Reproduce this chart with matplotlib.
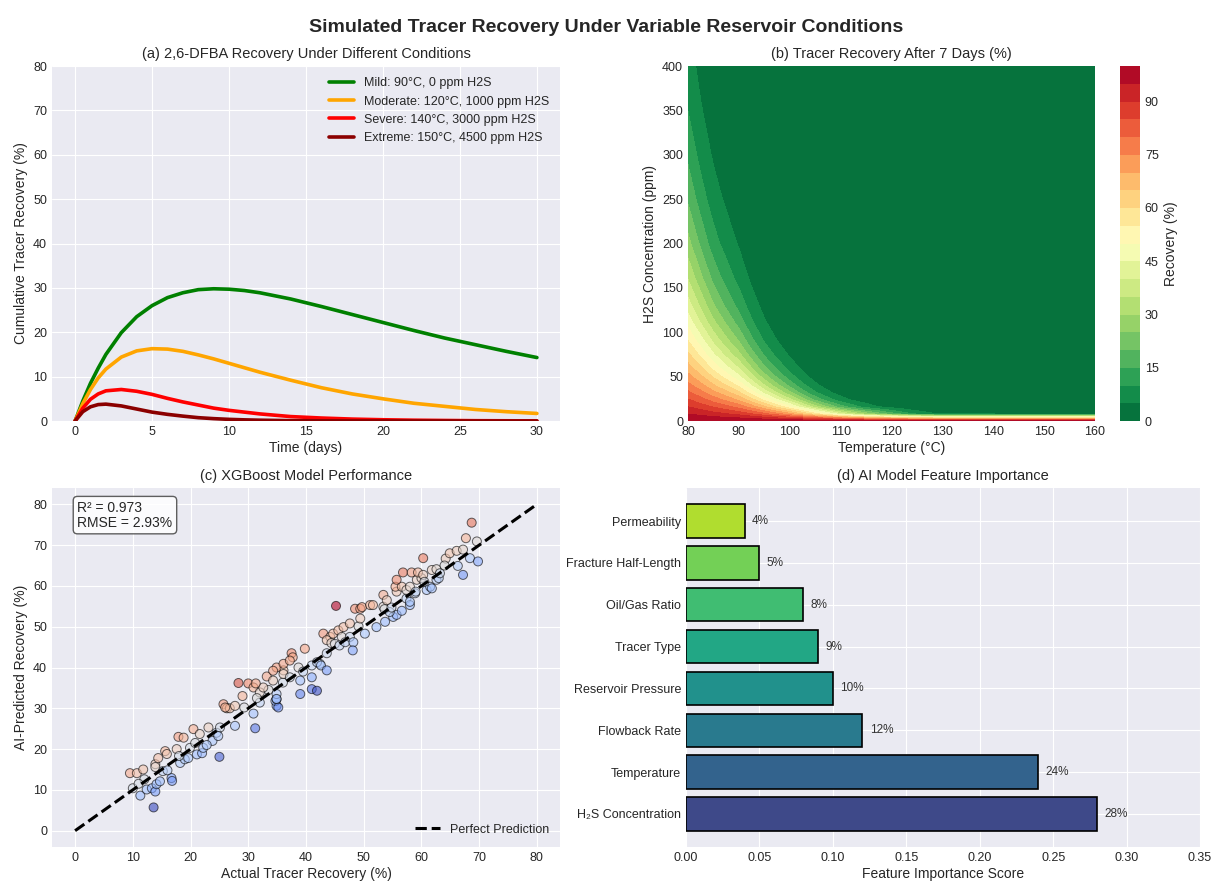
import numpy as np
import matplotlib
matplotlib.use("Agg")
import matplotlib.pyplot as plt

plt.style.use('seaborn-v0_8-darkgrid')
plt.rcParams['font.family'] = ['Liberation Sans', 'DejaVu Sans']

# (a) recovery curves
days = [0, 0.5, 1, 1.5, 2, 3, 4, 5, 6, 7, 8, 9, 10, 11, 12, 14, 16, 18, 20, 22, 24, 26, 28, 30]
mild = [0, 4.5, 8.5, 11.9, 15.0, 19.9, 23.5, 26.0, 27.8, 28.9, 29.6, 29.8, 29.7, 29.4, 28.9,
        27.5, 25.8, 24.0, 22.2, 20.4, 18.7, 17.2, 15.7, 14.3]
moderate = [0, 3.9, 7.1, 9.7, 11.7, 14.4, 15.8, 16.3, 16.2, 15.7, 14.9, 14.0, 13.0, 12.0, 11.0,
            9.2, 7.5, 6.1, 5.0, 4.0, 3.3, 2.6, 2.1, 1.7]
severe = [0, 2.9, 4.9, 6.1, 6.8, 7.1, 6.7, 6.0, 5.1, 4.3, 3.6, 2.9, 2.4, 2.0, 1.6,
          1.0, 0.67, 0.43, 0.28, 0.18, 0.12, 0.07, 0.05, 0.03]
extreme = [0, 2.1, 3.2, 3.7, 3.8, 3.4, 2.7, 2.0, 1.5, 1.1, 0.75, 0.53, 0.37, 0.26, 0.18,
           0.08, 0.04, 0.02, 0.01, 0, 0, 0, 0, 0]
scenario_labels = ['Mild: 90°C, 0 ppm H2S', 'Moderate: 120°C, 1000 ppm H2S',
                   'Severe: 140°C, 3000 ppm H2S', 'Extreme: 150°C, 4500 ppm H2S']
scenario_colors = ['green', 'orange', 'red', 'darkred']

# (b) 7-day recovery grid (rows = H2S ppm, cols = temperature)
temps = [80, 82.5, 85, 87.5, 90, 92.5, 95, 97.5, 100, 102.5, 105, 107.5, 110, 112.5,
         115, 117.5, 120, 122.5, 125, 127.5, 130, 160]
h2s = [0, 8, 16, 24, 32, 40, 50, 60, 75, 90, 110, 130, 160, 200, 250, 300, 350, 400]
recovery = [
    [100, 100, 100, 100, 100, 100, 100, 100, 100, 100, 100, 100, 100, 100, 100, 100, 100, 100, 100, 100, 100, 100],
    [94.9, 93.6, 91.9, 90.3, 88.3, 85.2, 81.2, 76.8, 71.5, 64.8, 57.1, 49.6, 41.5, 34.6, 27.8, 22.3, 17.2, 12.4, 8.4, 6.0, 4.1, 2.7],
    [90.0, 87.5, 84.5, 81.5, 78.0, 72.5, 66.0, 58.9, 51.1, 42.0, 32.6, 24.6, 17.2, 12.0, 7.7, 5.0, 3.0, 1.5, 0.7, 0.4, 0.2, 0.1],
    [85.4, 81.9, 77.7, 73.6, 68.9, 61.8, 53.6, 45.2, 36.5, 27.2, 18.6, 12.2, 7.1, 4.1, 2.1, 1.1, 0.5, 0.2, 0.1, 0, 0, 0],
    [81.0, 76.6, 71.5, 66.5, 60.9, 52.6, 43.5, 34.7, 26.1, 17.6, 10.6, 6.0, 3.0, 1.4, 0.6, 0.2, 0.1, 0, 0, 0, 0, 0],
    [76.8, 71.7, 65.7, 60.0, 53.8, 44.8, 35.3, 26.7, 18.6, 11.4, 6.1, 3.0, 1.2, 0.5, 0.2, 0, 0, 0, 0, 0, 0, 0],
    [71.9, 66.0, 59.2, 52.8, 46.1, 36.7, 27.3, 19.2, 12.2, 6.7, 3.0, 1.2, 0.4, 0.1, 0, 0, 0, 0, 0, 0, 0, 0],
    [67.3, 60.7, 53.3, 46.5, 39.5, 30.0, 21.0, 13.8, 8.0, 3.9, 1.5, 0.5, 0.1, 0, 0, 0, 0, 0, 0, 0, 0, 0],
    [61.0, 53.6, 45.5, 38.4, 31.3, 22.2, 14.2, 8.4, 4.3, 1.7, 0.5, 0.1, 0, 0, 0, 0, 0, 0, 0, 0, 0, 0],
    [55.2, 47.3, 38.9, 31.7, 24.8, 16.4, 9.6, 5.1, 2.3, 0.8, 0.2, 0, 0, 0, 0, 0, 0, 0, 0, 0, 0, 0],
    [48.4, 40.0, 31.5, 24.6, 18.2, 11.0, 5.7, 2.6, 1.0, 0.3, 0, 0, 0, 0, 0, 0, 0, 0, 0, 0, 0, 0],
    [42.4, 33.9, 25.5, 19.0, 13.3, 7.4, 3.4, 1.4, 0.4, 0.1, 0, 0, 0, 0, 0, 0, 0, 0, 0, 0, 0, 0],
    [34.8, 26.4, 18.6, 13.0, 8.4, 4.0, 1.6, 0.5, 0.1, 0, 0, 0, 0, 0, 0, 0, 0, 0, 0, 0, 0, 0],
    [26.7, 18.9, 12.2, 7.8, 4.5, 1.8, 0.6, 0.1, 0, 0, 0, 0, 0, 0, 0, 0, 0, 0, 0, 0, 0, 0],
    [19.2, 12.5, 7.2, 4.1, 2.1, 0.7, 0.2, 0, 0, 0, 0, 0, 0, 0, 0, 0, 0, 0, 0, 0, 0, 0],
    [13.8, 8.2, 4.3, 2.2, 1.0, 0.2, 0, 0, 0, 0, 0, 0, 0, 0, 0, 0, 0, 0, 0, 0, 0, 0],
    [9.9, 5.4, 2.5, 1.1, 0.4, 0.1, 0, 0, 0, 0, 0, 0, 0, 0, 0, 0, 0, 0, 0, 0, 0, 0],
    [7.1, 3.6, 1.5, 0.6, 0.2, 0, 0, 0, 0, 0, 0, 0, 0, 0, 0, 0, 0, 0, 0, 0, 0, 0],
]

# (c) actual vs predicted recovery
actual = [10.0, 9.5, 10.7, 11.3, 11.8, 12.4, 13.3, 13.9, 14.1, 14.7, 13.6, 13.9, 13.9, 14.4,
          15.6, 15.9, 15.2, 16.7, 16.8, 17.6, 17.9, 18.8, 18.2, 19.0, 19.6, 19.9, 20.5, 21.1,
          22.0, 21.6, 22.2, 23.1, 24.5, 25.1, 25.0, 25.7, 26.3, 26.8, 27.7, 27.7, 29.3, 30.9,
          31.2, 32.0, 34.9, 34.7, 12.0, 11.0, 16.0, 23.8, 24.8, 20.8, 22.8, 18.0,
          28.3, 30.0, 30.9, 33.2, 32.0, 34.3, 34.9, 35.2, 36.1, 37.5, 37.7, 39.8, 26.0, 31.5,
          29.0, 33.5, 36.0,
          34.9, 34.3, 36.1, 36.1, 37.2, 37.2, 38.7, 39.5, 41.0, 42.4, 41.9, 42.6, 43.6, 39.0,
          41.0, 41.9, 39.0, 34.9, 34.9, 32.6, 31.3, 41.0, 43.6,
          43.0, 44.2, 43.6, 44.4, 44.7, 45.6, 46.5, 47.6, 45.0, 45.8, 46.2, 46.8, 47.6, 48.2,
          48.1, 49.1, 50.2, 49.4, 45.2, 48.5, 49.4, 49.7, 51.1, 51.6, 52.2, 53.7, 55.1, 55.7,
          56.6, 53.4, 53.6, 54.5, 54.8, 53.4, 54.0, 57.4, 58.0, 58.0, 58.9, 55.7, 55.5, 56.6,
          57.4, 58.0, 59.0, 59.2, 60.0, 60.9, 61.5, 61.8, 62.6, 63.0, 55.7, 56.8, 58.3, 59.4,
          60.3, 60.3, 61.8, 62.6, 63.2, 64.2, 64.9, 66.1, 67.2, 66.3, 67.2, 68.4, 69.8, 67.7,
          69.6, 68.7, 60.5, 64.0]
predicted = [10.4, 14.1, 14.1, 8.6, 15.0, 10.1, 10.4, 9.6, 11.4, 12.1, 5.7, 16.3, 15.6, 17.8,
             19.5, 18.8, 14.6, 12.9, 12.2, 20.0, 23.0, 22.8, 16.6, 17.5, 17.8, 20.3, 24.9, 18.7,
             19.0, 23.7, 20.3, 25.3, 24.0, 25.3, 18.1, 31.0, 30.0, 30.0, 30.6, 25.7, 30.2, 28.7,
             25.1, 31.4, 30.6, 31.8, 12.6, 11.5, 14.8, 22.0, 23.2, 21.5, 21.0, 18.3,
             36.2, 36.1, 35.1, 37.8, 33.9, 36.8, 32.2, 30.2, 39.3, 43.5, 42.5, 44.6, 30.2, 32.5,
             33.0, 34.5, 36.3,
             40.0, 39.2, 40.9, 38.4, 37.6, 41.7, 40.0, 39.0, 40.5, 40.9, 41.3, 40.5, 39.3, 36.8,
             34.7, 34.3, 33.5, 33.5, 32.3, 35.1, 36.1, 37.6, 43.5,
             48.3, 47.5, 46.7, 46.0, 48.3, 49.1, 49.9, 50.8, 45.8, 45.4, 47.5, 46.2, 47.5, 46.2,
             44.2, 50.1, 48.3, 52.0, 55.1, 54.4, 54.4, 54.8, 55.3, 55.3, 49.9, 51.2, 52.4, 52.9,
             53.9, 54.9, 54.3, 53.6, 54.7, 57.8, 56.5, 56.9, 55.3, 56.1, 58.2, 58.6, 59.8, 59.8,
             59.0, 59.8, 58.6, 61.5, 61.9, 59.0, 59.8, 59.4, 61.5, 61.9, 61.5, 63.3, 63.3, 63.3,
             62.7, 66.8, 63.9, 64.1, 63.1, 66.7, 68.0, 68.6, 68.9, 64.9, 62.7, 66.8, 66.0, 71.7,
             70.9, 75.5, 61.0, 65.0]
r2 = 0.973
rmse = 2.93

# (d) feature importance
features = ['H\u2082S Concentration', 'Temperature', 'Flowback Rate', 'Reservoir Pressure',
            'Tracer Type', 'Oil/Gas Ratio', 'Fracture Half-Length', 'Permeability']
importance = [0.28, 0.24, 0.12, 0.10, 0.09, 0.08, 0.05, 0.04]

TITLE = 10.5
LABEL = 10
TICK = 9

W, H = 1213, 882
fig = plt.figure(figsize=(W / 100, H / 100), dpi=100)
fig.suptitle('Simulated Tracer Recovery Under Variable Reservoir Conditions',
             fontsize=14, fontweight='bold', y=0.978)

def box(x0, y0, x1, y1):
    return [x0 / W, 1 - y1 / H, (x1 - x0) / W, (y1 - y0) / H]

ax1 = fig.add_axes(box(52, 66, 560, 421))
ax2 = fig.add_axes(box(688, 66, 1095, 421))
cax = fig.add_axes(box(1120, 66, 1140, 421))
ax3 = fig.add_axes(box(52, 488, 560, 847))
ax4 = fig.add_axes(box(686, 488, 1200, 847))

# (a)
for ys, lab, col in zip([mild, moderate, severe, extreme], scenario_labels, scenario_colors):
    ax1.plot(days, ys, color=col, lw=2.6, label=lab)
ax1.set_ylim(0, 80)
ax1.set_xticks(range(0, 31, 5))
ax1.set_yticks(range(0, 81, 10))
ax1.set_xlabel('Time (days)', fontsize=LABEL, labelpad=2)
ax1.set_ylabel('Cumulative Tracer Recovery (%)', fontsize=LABEL)
ax1.set_title('(a) 2,6-DFBA Recovery Under Different Conditions', fontsize=TITLE)
ax1.legend(loc='upper right', fontsize=9)
ax1.tick_params(labelsize=TICK)

# (b)
cf = ax2.contourf(temps, h2s, recovery, levels=np.linspace(0, 100, 21), cmap='RdYlGn_r')
ax2.set_xlim(80, 160)
ax2.set_ylim(0, 400)
ax2.set_xticks(range(80, 161, 10))
ax2.set_yticks(range(0, 401, 50))
ax2.set_xlabel('Temperature (°C)', fontsize=LABEL, labelpad=2)
ax2.set_ylabel('H2S Concentration (ppm)', fontsize=LABEL)
ax2.set_title('(b) Tracer Recovery After 7 Days (%)', fontsize=TITLE)
ax2.tick_params(labelsize=TICK)
cb = fig.colorbar(cf, cax=cax, ticks=range(0, 91, 15))
cb.set_label('Recovery (%)', fontsize=LABEL)
cb.ax.tick_params(labelsize=TICK)
cb.outline.set_visible(False)

# (c)
act = np.array(actual)
pred = np.array(predicted)
ax3.scatter(act, pred, c=pred - act, cmap='coolwarm', s=42, alpha=0.6,
            edgecolors='black', linewidths=0.7)
ax3.plot([0, 80], [0, 80], 'k--', lw=2.2, label='Perfect Prediction')
ax3.set_xticks(range(0, 81, 10))
ax3.set_yticks(range(0, 81, 10))
ax3.set_xlabel('Actual Tracer Recovery (%)', fontsize=LABEL, labelpad=2)
ax3.set_ylabel('AI-Predicted Recovery (%)', fontsize=LABEL)
ax3.set_title('(c) XGBoost Model Performance', fontsize=TITLE)
ax3.legend(loc='lower right', fontsize=9)
ax3.text(0.05, 0.965, f'R\u00b2 = {r2:.3f}\nRMSE = {rmse:.2f}%', transform=ax3.transAxes,
         fontsize=10, va='top', linespacing=1.1,
         bbox=dict(boxstyle='round', facecolor='white', edgecolor='#444444', alpha=0.85))
ax3.tick_params(labelsize=TICK)

# (d)
bar_colors = plt.cm.viridis(np.linspace(0.22, 0.88, len(features)))
ax4.barh(features, importance, color=bar_colors, edgecolor='black', linewidth=1.2)
for i, v in enumerate(importance):
    ax4.text(v + 0.005, i, f'{v * 100:.0f}%', va='center', fontsize=8.5, color='#333333')
ax4.set_xlim(0, 0.35)
ax4.set_xticks(np.arange(0, 0.351, 0.05))
ax4.set_xlabel('Feature Importance Score', fontsize=LABEL, labelpad=2)
ax4.set_title('(d) AI Model Feature Importance', fontsize=TITLE)
ax4.tick_params(labelsize=TICK)

fig.savefig('out.png', dpi=100)
